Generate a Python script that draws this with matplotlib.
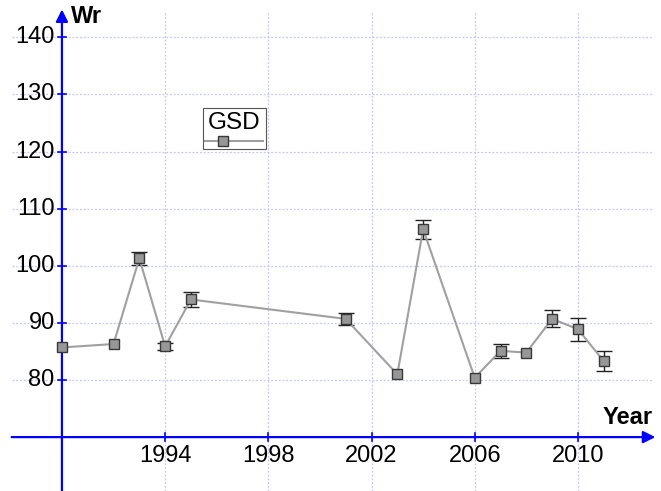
import matplotlib
matplotlib.use("Agg")
import matplotlib.pyplot as plt
from matplotlib.patches import Rectangle
from matplotlib.lines import Line2D

plt.rcParams['font.family'] = ['Liberation Sans', 'DejaVu Sans']

years = [1990, 1992, 1993, 1994, 1995, 2001, 2003, 2004, 2006, 2007, 2008, 2009, 2010, 2011]
wr = [85.7, 86.3, 101.3, 85.9, 94.1, 90.7, 81.0, 106.4, 80.4, 85.1, 84.8, 90.7, 88.9, 83.3]
err = [0.0, 0.0, 1.2, 0.6, 1.3, 1.0, 0.0, 1.7, 0.0, 1.2, 0.0, 1.5, 2.0, 1.8]
x_ticks = [1994, 1998, 2002, 2006, 2010]
y_ticks = [80, 90, 100, 110, 120, 130, 140]
series_name = "GSD"
x_title = "Year"
y_title = "Wr"

fig = plt.figure(figsize=(6.61, 4.91), dpi=100)
ax = fig.add_axes([0, 0, 1, 1])
ax.set_xlim(1987.6, 2013.22)
ax.set_ylim(60.56, 146.55)
ax.axis('off')

x0, y0 = 1990, 70
grid_c = '#c4c4fa'
for yt in y_ticks:
    ax.plot([1988.05, 2012.9], [yt, yt], color=grid_c, lw=0.9, ls=(0, (1.5, 1.5)), zorder=1)
for xt in x_ticks:
    ax.plot([xt, xt], [60.56, 144.7], color=grid_c, lw=0.9, ls=(0, (1.5, 1.5)), zorder=1)

blue = '#0000ff'
ax.annotate('', xy=(2013.0, y0), xytext=(1988.05, y0),
            arrowprops=dict(arrowstyle='-|>', color=blue, lw=1.6, mutation_scale=18, shrinkA=0, shrinkB=0), zorder=3)
ax.annotate('', xy=(x0, 144.9), xytext=(x0, 60.56),
            arrowprops=dict(arrowstyle='-|>', color=blue, lw=1.6, mutation_scale=18, shrinkA=0, shrinkB=0), zorder=3)

dx = 0.17
dy = 0.72
for yt in y_ticks:
    ax.plot([x0 - dx, x0 + dx], [yt, yt], color=blue, lw=1.2, zorder=3)
    ax.text(x0 - 0.28, yt, str(yt), ha='right', va='center', fontsize=17, color='#000000')
for xt in x_ticks:
    ax.plot([xt, xt], [y0 - dy, y0 + dy], color=blue, lw=1.2, zorder=3)
    ax.text(xt, y0 - 1.3, str(xt), ha='center', va='top', fontsize=17, color='#000000')

ax.text(1990.35, 145.6, y_title, ha='left', va='top', fontsize=17, fontweight='bold', color='#000000')
ax.text(2012.9, 71.5, x_title, ha='right', va='bottom', fontsize=17, fontweight='bold', color='#000000')

ex = [x for x, e in zip(years, err) if e > 0]
ey = [y for y, e in zip(wr, err) if e > 0]
ee = [e for e in err if e > 0]
ax.errorbar(ex, ey, yerr=ee, fmt='none', ecolor='#222222', elinewidth=1.0, capsize=5.5, capthick=1.0, zorder=4)
ax.plot(years, wr, color='#a0a0a0', lw=1.5, zorder=5)
ax.plot(years, wr, ls='none', marker='s', markersize=7.8, markerfacecolor='#979797',
        markeredgecolor='#383838', markeredgewidth=1.0, zorder=6)

lx0, lx1 = 1995.45, 1997.9
ly0, ly1 = 120.4, 127.7
ax.add_patch(Rectangle((lx0, ly0), lx1 - lx0, ly1 - ly0, facecolor='white',
                       edgecolor='#555555', lw=0.8, zorder=7))
ax.text((lx0 + lx1) / 2, 125.0, series_name, ha='center', va='center', fontsize=17.5, color='#000000', zorder=8)
ax.add_line(Line2D([lx0 + 0.1, lx1 - 0.1], [121.9, 121.9], color='#a0a0a0', lw=1.5, zorder=8))
ax.add_line(Line2D([1996.23], [121.9], ls='none', marker='s', markersize=7.8,
                   markerfacecolor='#979797', markeredgecolor='#383838', markeredgewidth=1.0, zorder=9))

fig.savefig('out.png', dpi=100)
